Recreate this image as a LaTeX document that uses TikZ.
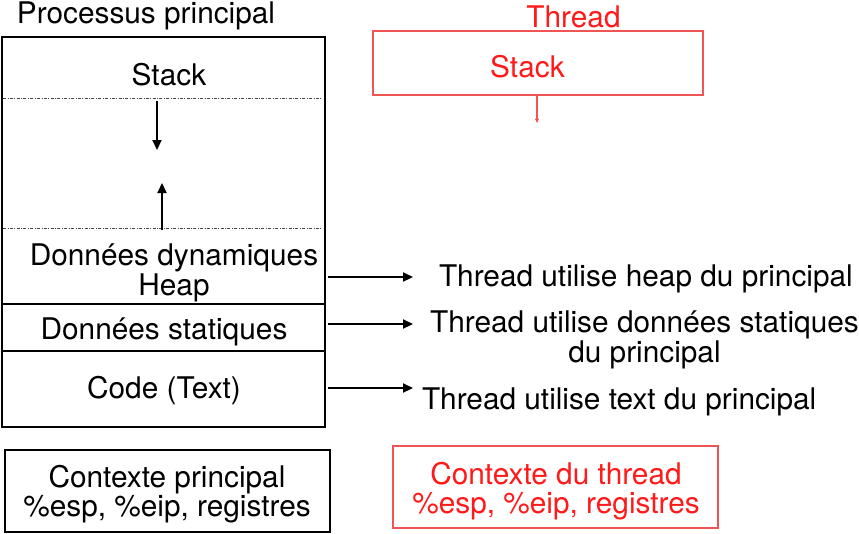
\documentclass[tikz,border=0pt]{standalone}
\usepackage{fontspec}
\setmainfont{TeX Gyre Heros}
\usetikzlibrary{arrows.meta}
\definecolor{tred}{RGB}{255,25,25}
\definecolor{tborder}{RGB}{240,85,85}
\definecolor{dotgray}{RGB}{70,70,70}
\begin{document}
\begin{tikzpicture}[x=1pt,y=-1pt,
  lbl/.style={inner sep=0pt, outer sep=0pt, font=\fontsize{29.8}{30}\selectfont},
  seg/.style={draw=black, line width=2.2pt, inner sep=0pt, outer sep=0pt},
  rbox/.style={draw=tborder, line width=1.4pt, inner sep=0pt, outer sep=0pt},
  arr/.style={line width=2.2pt, -{Triangle[length=10pt,width=9pt]}},
  rarr/.style={draw=tborder, line width=1.1pt, -{Triangle[length=4.5pt,width=4pt]}},
  sep/.style={dotgray, line width=0.8pt, dash pattern=on 3pt off 1.5pt on 0.8pt off 1.5pt}
]
\useasboundingbox (0,0) rectangle (859,533);

% main process
\node[lbl, anchor=base] (title) at (146,23) {Processus principal};
\node[seg, minimum width=323pt, minimum height=267pt] (upper) at (163.5,170.5) {};
\node[seg, minimum width=323pt, minimum height=47pt] (static) at (163.5,327.5) {};
\node[seg, minimum width=323pt, minimum height=76pt] (code) at (163.5,389) {};

\draw[sep] (3,98.5) -- (322,98.5);
\draw[sep] (3,228.5) -- (322,228.5);

\node[lbl, anchor=base] (stack) at (169,85) {Stack};
\node[lbl, anchor=base, align=center] (heap) at (174,295) {Données dynamiques\\Heap};
\node[lbl, anchor=base] (statxt) at (164,339) {Données statiques};
\node[lbl, anchor=base] (codetxt) at (164,398) {Code (Text)};

\coordinate (sd1) at (157,101);
\coordinate (sd2) at (157,150);
\coordinate (hu1) at (162,230);
\coordinate (hu2) at (162,183);
\draw[arr] (sd1) -- (sd2);
\draw[arr] (hu1) -- (hu2);

% arrows to the right
\coordinate (a1) at (413,277);
\coordinate (a2) at (413,324);
\coordinate (a3) at (413,388);
\draw[arr, shorten <=3pt] (upper.east |- a1) -- (a1);
\draw[arr, shorten <=3pt] (static.east |- a2) -- (a2);
\draw[arr, shorten <=3pt] (code.east |- a3) -- (a3);

\node[lbl, anchor=base west] (t1) at (439,286) {Thread utilise heap du principal};
\node[lbl, anchor=base, align=center] (t2) at (644.5,362) {Thread utilise données statiques\\du principal};
\node[lbl, anchor=base west] (t3) at (422,409) {Thread utilise text du principal};

% thread
\node[lbl, anchor=base, text=tred] (thread) at (573.5,27) {Thread};
\node[rbox, minimum width=330pt, minimum height=64pt] (tstack) at (538,63) {};
\node[lbl, anchor=base, text=tred] (tstacktxt) at (527.5,77) {Stack};
\coordinate (tsend) at (537,123);
\draw[rarr] (tstack.south -| tsend) -- (tsend);

% contexts
\node[seg, minimum width=325pt, minimum height=82pt] (ctxp) at (167.5,491) {};
\node[lbl, anchor=base, align=center, font=\fontsize{29.8}{29}\selectfont] (ctxptxt) at (167,516) {Contexte principal\\\%esp, \%eip, registres};
\node[rbox, minimum width=325pt, minimum height=82pt] (ctxt) at (555.5,487) {};
\node[lbl, anchor=base, align=center, text=tred, font=\fontsize{29.8}{29}\selectfont] (ctxttxt) at (556,513) {Contexte du thread\\\%esp, \%eip, registres};
\end{tikzpicture}
\end{document}
